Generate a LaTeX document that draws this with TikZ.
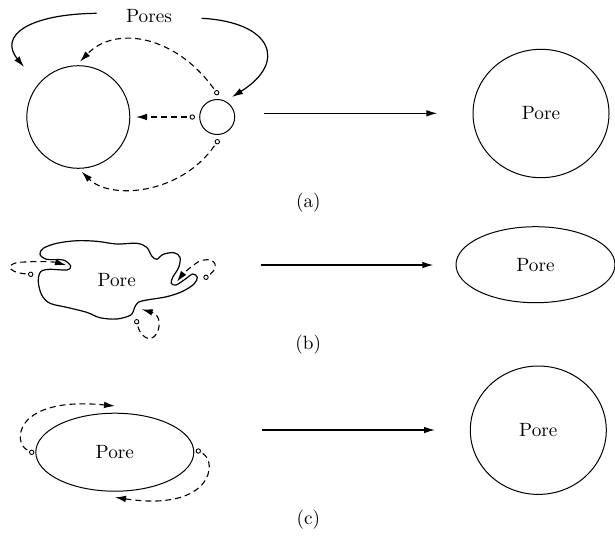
\documentclass[tikz,border=0pt]{standalone}
\usetikzlibrary{arrows.meta,shapes.geometric}
\begin{document}
\begin{tikzpicture}[x=0.5pt,y=-0.5pt,
  tip/.style={-{Latex[length=5.5pt,width=3.3pt]}},
  conn/.style={tip,line width=0.6pt},
  dsh/.style={tip,line width=0.55pt,dash pattern=on 3pt off 2pt,shorten <=1.2pt},
  shp/.style={draw,ellipse,line width=0.5pt,inner sep=0pt},
  dot/.style={circle,draw,inner sep=0pt,minimum size=2.2pt,line width=0.45pt},
  lbl/.style={font=\rmfamily\fontsize{9.6}{11}\selectfont}]
\useasboundingbox (0,0) rectangle (615,553);
% ---------- (a)
\node[shp,minimum width=51.5pt,minimum height=51.3pt] (big) at (78.3,117) {};
\node[shp,minimum width=17.5pt,minimum height=17.5pt] (small) at (217.2,117) {};
\node[lbl] (pores) at (149,16) {Pores};
\coordinate (pl) at (96.7,13.3);
\coordinate (pr) at (201.7,18.3);
\coordinate (tl) at (24,67);
\coordinate (tr) at (232,97);
\draw[conn] (pl) .. controls (30,14) and (-2,35) .. (tl);
\draw[conn] (pr) .. controls (272,22) and (288,62) .. (tr);
\node[dot] (da1) at (216.7,92.7) {};
\node[dot] (da2) at (192.3,117) {};
\node[dot] (da3) at (217.3,141.7) {};
\coordinate (ta1) at (80,61.7);
\coordinate (ta2) at (136,117);
\coordinate (ta3) at (81.7,171.7);
\draw[dsh] (da1) .. controls (175,35) and (115,25) .. (ta1);
\draw[dsh] (da2) -- (ta2);
\draw[dsh] (da3) .. controls (180,195) and (110,200) .. (ta3);
\node[shp,minimum width=68pt,minimum height=64.2pt,lbl] (ra) at (541,113.5) {Pore};
\coordinate (a1) at (264.3,113.3);
\coordinate (a2) at (437.3,113.3);
\draw[conn] (a1) -- (a2);
\node[lbl] (la) at (308.3,203) {(a)};
% ---------- (b)
\draw[line width=0.6pt] plot[smooth cycle,tension=0.55] coordinates {
 (70.7,266) (63.3,260) (46.7,259.3) (40,254.3) (43.3,248.3) (56.7,243.3)
 (76.7,240.7) (96.7,241.3) (116.7,244) (136.7,243.3) (146.7,247.3) (151.7,256)
 (156.7,259.3) (163.3,254.3) (174,252.7) (180,257.3) (178.7,267.3) (172.7,277.3)
 (171.3,283.3) (176,285) (185,279.3) (192.7,274) (197.3,277.3) (194,284)
 (182.7,291.3) (166.7,296.7) (146.7,300) (138.3,302.3) (134.7,307.3) (130.7,315)
 (116.7,319) (100,317.7) (86.7,312.3) (66.7,307.3) (50,303.3) (41.7,295)
 (38.3,281.7) (40.7,271.7) (50,269.3) (66.7,270)};
\node[lbl] (pb) at (116.7,280) {Pore};
\node[dot] (db1) at (30.7,274.3) {};
\node[dot] (db2) at (206,277.3) {};
\node[dot] (db3) at (136.7,321.7) {};
\coordinate (tb1) at (66,265);
\coordinate (tb2) at (177,281.7);
\coordinate (tb3) at (141.7,309.3);
\draw[dsh] (db1) .. controls (5,272) and (5,262) .. (25,262) .. controls (40,261) and (55,262) .. (tb1);
\draw[dsh] (db2) .. controls (222,265) and (212,255) .. (198,262) .. controls (190,267) and (182,275) .. (tb2);
\draw[dsh] (db3) .. controls (140,335) and (150,345) .. (157,333) .. controls (162,322) and (158,314) .. (tb3);
\node[shp,minimum width=79.5pt,minimum height=38pt,lbl] (rb) at (535.5,264.7) {Pore};
\coordinate (b1) at (260.7,265);
\coordinate (b2) at (433.3,265);
\draw[conn] (b1) -- (b2);
\node[lbl] (lb) at (308.3,345) {(b)};
% ---------- (c)
\node[shp,minimum width=79pt,minimum height=39pt,lbl] (ec) at (114.8,452.2) {Pore};
\node[dot] (dc1) at (31.7,452.3) {};
\node[dot] (dc2) at (198.3,451) {};
\coordinate (tc1) at (115,406);
\coordinate (tc2) at (115,497.3);
\draw[dsh] (dc1) .. controls (12,442) and (15,396) .. (tc1);
\draw[dsh] (dc2) .. controls (218,462) and (212,512) .. (tc2);
\node[shp,minimum width=68pt,minimum height=64.2pt,lbl] (rc) at (538.3,430.2) {Pore};
\coordinate (c1) at (261.7,430);
\coordinate (c2) at (435,430);
\draw[conn] (c1) -- (c2);
\node[lbl] (lc) at (308.3,520) {(c)};
\end{tikzpicture}
\end{document}
